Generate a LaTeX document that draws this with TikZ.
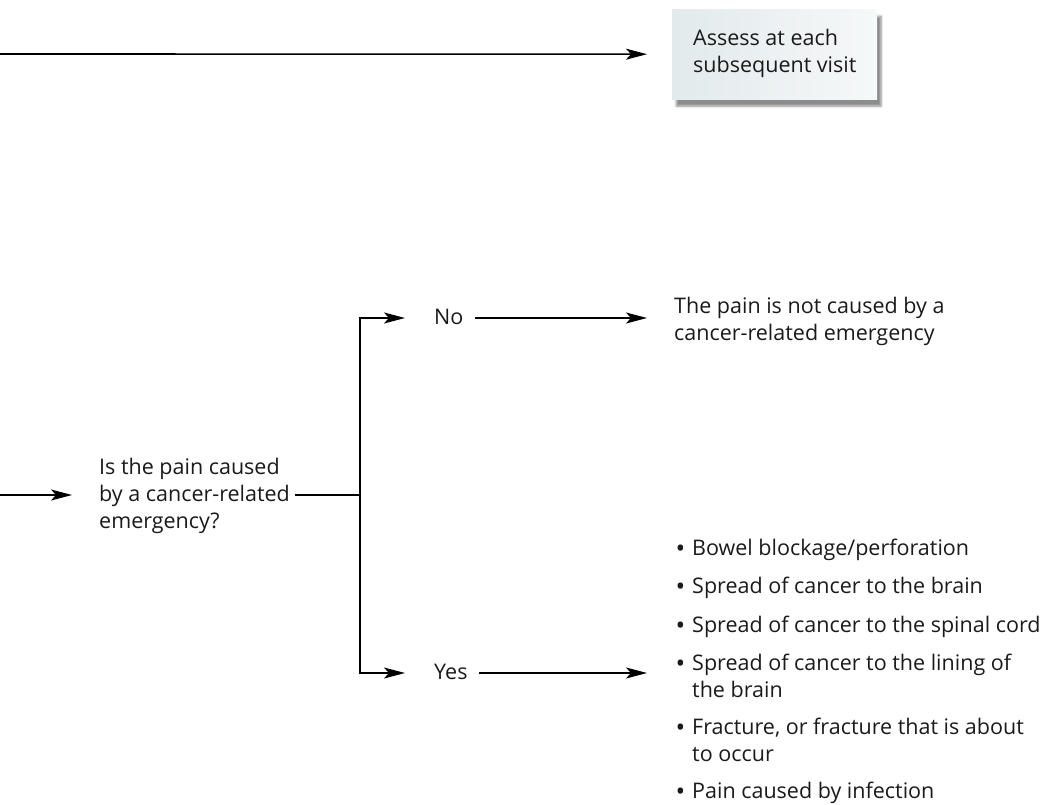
\documentclass[tikz,border=0pt]{standalone}
\usepackage{fontspec}
\setmainfont{Open Sans}
\usetikzlibrary{arrows.meta,shadows.blur,calc}
\definecolor{boxL}{HTML}{E2EAEC}
\definecolor{boxR}{HTML}{F6F8F9}
\definecolor{ink}{HTML}{1A1A1A}
\tikzset{
  txt/.style={inner sep=0pt, align=left, anchor=base west,
              font=\fontsize{21.5}{27}\selectfont, text=ink},
  ln/.style={line width=1.6pt, draw=black},
  arr/.style={ln, -{Stealth[length=21pt,width=11pt,inset=5pt]}},
  infobox/.style={anchor=north west, minimum width=205pt, minimum height=90pt,
              left color=boxL, right color=boxR,
              blur shadow={shadow xshift=4pt, shadow yshift=-7pt,
                           shadow blur steps=6, shadow opacity=45}},
  itm/.style={txt},
}
\newcommand{\bul}{\llap{\raisebox{-2.5pt}{\scalebox{1.2}{\textbullet}}\hspace{7pt}}}
\begin{document}
\begin{tikzpicture}[x=1pt,y=-1pt]
\useasboundingbox (0,0) rectangle (1042,805);

% top row
\node[infobox] (assessbox) at (672,9) {};
\node[txt] (assess) at (693,73) {Assess at each\\subsequent visit};
\coordinate (s1) at (0,54);
\draw[arr, shorten >=25pt] (s1) -- (assessbox.west);

% question
\coordinate (s2) at (0,495);
\node[txt] (q) at (99,528) {Is the pain caused\\by a cancer-related\\emergency?};
\draw[arr, shorten >=27pt] (s2) -- (s2 -| q.west);
\coordinate (j) at (360,495);
\draw[ln, shorten <=5pt] (j -| q.east) -- (j);

% branches
\node[txt] (no) at (434,324) {No};
\node[txt] (yes) at (434,679) {Yes};
\coordinate (jt) at (360,318);
\coordinate (jb) at (360,673);
\draw[arr, shorten >=29pt] (j) |- (jt -| no.west);
\draw[arr, shorten >=29pt] (j) |- (jb -| yes.west);

\node[txt] (nc) at (674,340) {The pain is not caused by a\\cancer-related emergency};

% bullets
\node[itm] (b1) at (692,555) {\bul Bowel blockage/perforation};
\node[itm] (b2) at (692,593) {\bul Spread of cancer to the brain};
\node[itm] (b3) at (692,632) {\bul Spread of cancer to the spinal cord};
\node[itm] (b4) at (692,697) {\bul Spread of cancer to the lining of\\the brain};
\node[itm] (b5) at (692,761) {\bul Fracture, or fracture that is about\\to occur};
\node[itm] (b6) at (692,798) {\bul Pain caused by infection};

\draw[arr, shorten <=11pt, shorten >=27pt] (jt -| no.east) -- (jt -| nc.west);
\draw[arr, shorten <=11pt, shorten >=45pt] (jb -| yes.east) -- (jb -| b4.west);
\end{tikzpicture}
\end{document}
